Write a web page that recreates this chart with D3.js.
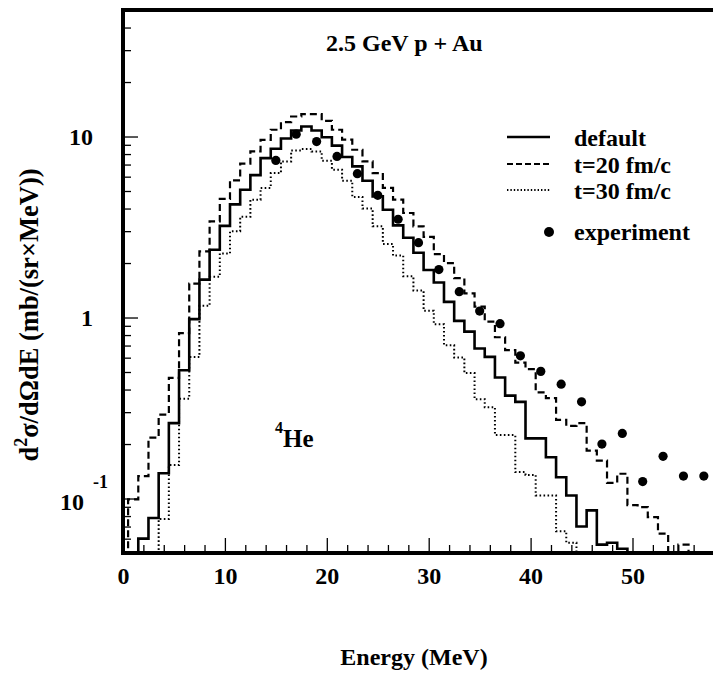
<!DOCTYPE html>
<html><head><meta charset="utf-8">
<script src="https://cdn.jsdelivr.net/npm/d3@7"></script>
<style>
body{margin:0;background:#fff}
svg{display:block;background:#fff}
text{font-family:"Liberation Serif","Times New Roman",serif;font-weight:bold;fill:#000}
</style>
</head><body><svg id="c" width="713" height="674"></svg>
<script>
// ---- data ----
// histogram bin centres (MeV), 1 MeV wide bins
const binCenters = [0,1,2,3,4,5,6,7,8,9,10,11,12,13,14,15,16,17,18,19,20,21,22,23,24,25,26,27,28,29,30,31,32,33,34,35,36,37,38,39,40,41,42,43,44,45,46,47,48,49,50,51,52,53,54,55,56,57];
// values below the frame (0.05) are shown as 0.03 (they fall off the plot)
const defaultVals = [0.03,0.03,0.060,0.078,0.138,0.261,0.511,0.98,1.62,2.37,3.21,4.22,5.08,6.12,7.60,8.56,9.75,10.8,11.35,10.8,9.9,8.9,7.7,6.84,5.70,4.67,3.94,3.23,2.76,2.28,1.83,1.56,1.22,0.958,0.836,0.674,0.606,0.466,0.370,0.342,0.215,0.215,0.169,0.131,0.104,0.070,0.086,0.0556,0.057,0.0528,0.03,0.03,0.03,0.03,0.03,0.03,0.03,0.03];
const t20Vals = [0.03,0.099,0.133,0.217,0.291,0.464,0.82,1.54,2.32,3.40,4.52,5.73,7.08,8.27,9.59,10.9,12.0,12.9,13.3,13.3,12.2,10.9,9.6,8.45,7.28,6.28,5.20,4.48,3.78,3.19,2.79,2.24,2.0,1.65,1.36,1.15,0.95,0.778,0.661,0.563,0.519,0.386,0.359,0.272,0.252,0.261,0.184,0.162,0.122,0.137,0.092,0.0897,0.079,0.064,0.03,0.0556,0.03,0.03];
const t30Vals = [0.03,0.03,0.03,0.03,0.077,0.153,0.356,0.605,1.16,1.68,2.26,3.0,3.6,4.48,5.2,6.28,7.28,8.37,8.52,8.27,7.35,6.56,5.70,4.63,4.0,3.19,2.55,2.2,1.69,1.41,1.09,0.918,0.703,0.601,0.493,0.354,0.319,0.224,0.224,0.140,0.135,0.104,0.104,0.066,0.057,0.03,0.03,0.03,0.03,0.03,0.03,0.03,0.03,0.03,0.03,0.03,0.03,0.03];
const expEnergy = [15,17,19,21,23,25,27,29,31,33,35,37,39,41,43,45,47,49,51,53,55,57];
const expVals = [7.38,10.3,9.38,7.76,6.23,4.73,3.49,2.59,1.84,1.39,1.086,0.925,0.614,0.504,0.428,0.342,0.200,0.229,0.124,0.171,0.133,0.133];
const xMajorTicks = [0,10,20,30,40,50];
const xMinorTicks = [2,4,6,8,12,14,16,18,22,24,26,28,32,34,36,38,42,44,46,48,52,54,56,58];
const yMajorTicks = [0.1,1,10];
const yMinorTicks = [0.06,0.07,0.08,0.09,0.2,0.3,0.4,0.5,0.6,0.7,0.8,0.9,2,3,4,5,6,7,8,9,20,30,40];
const seriesNames = ["default","t=20 fm/c","t=30 fm/c","experiment"];
const titleText = "2.5 GeV p + Au";
const xTitle = "Energy (MeV)";

// ---- layout ----
const W = 713, H = 674;
const L = 123, B = 553, T = 10;
const svg = d3.select("#c");
const x = d3.scaleLinear().domain([0, 60]).range([L, L + 611.4]);
const y = d3.scaleLog().domain([0.05, 50]).range([B, T]);

svg.append("defs").append("clipPath").attr("id", "clip")
  .append("rect").attr("x", L).attr("y", T).attr("width", W - L).attr("height", B - T);

// ---- axes ----
const xAxis = svg.append("g").attr("transform", `translate(0,${B})`)
  .call(d3.axisBottom(x).tickValues(xMajorTicks).tickSize(-15).tickPadding(14).tickFormat(d3.format("d")));
const xAxisMinor = svg.append("g").attr("transform", `translate(0,${B})`)
  .call(d3.axisBottom(x).tickValues(xMinorTicks).tickSize(-8).tickFormat(""));
const yAxis = svg.append("g").attr("transform", `translate(${L},0)`)
  .call(d3.axisLeft(y).tickValues(yMajorTicks).tickSize(-15).tickPadding(30).tickFormat(d => d >= 1 ? d3.format("d")(d) : "10"));
const yAxisMinor = svg.append("g").attr("transform", `translate(${L},0)`)
  .call(d3.axisLeft(y).tickValues(yMinorTicks).tickSize(-8).tickFormat(""));
[xAxis, xAxisMinor, yAxis, yAxisMinor].forEach(g => {
  g.select(".domain").remove();
  g.selectAll(".tick line").attr("stroke", "#000").attr("stroke-width", 1.3);
  g.selectAll("text").attr("font-family", null).attr("font-size", 24).attr("fill", "#000");
});
// 10^-1 label
yAxis.selectAll(".tick").filter(d => d < 1).select("text")
  .attr("text-anchor", "start").attr("x", -63).attr("dy", "0.47em")
  .append("tspan").attr("dx", 9).attr("dy", -22).attr("font-size", 18).text("-1");

// ---- histograms ----
function stepPoints(vals) {
  const pts = binCenters.map((c, i) => [c - 0.5, vals[i]]);
  pts.push([binCenters[binCenters.length - 1] + 0.5, vals[vals.length - 1]]);
  return pts;
}
const line = d3.line().x(d => x(d[0])).y(d => y(d[1])).curve(d3.curveStepAfter);
const plot = svg.append("g").attr("clip-path", "url(#clip)");
plot.append("path").attr("d", line(stepPoints(t30Vals)))
  .attr("fill", "none").attr("stroke", "#000").attr("stroke-width", 2).attr("stroke-dasharray", "1.6,2.4");
plot.append("path").attr("d", line(stepPoints(t20Vals)))
  .attr("fill", "none").attr("stroke", "#000").attr("stroke-width", 2.2).attr("stroke-dasharray", "7,4");
plot.append("path").attr("d", line(stepPoints(defaultVals)))
  .attr("fill", "none").attr("stroke", "#000").attr("stroke-width", 2.6);
plot.selectAll("circle.exp").data(expEnergy).join("circle").attr("class", "exp")
  .attr("cx", d => x(d)).attr("cy", (d, i) => y(expVals[i])).attr("r", 4.6).attr("fill", "#000");

// ---- frame ----
svg.append("line").attr("x1", L - 2).attr("x2", W).attr("y1", T).attr("y2", T).attr("stroke", "#000").attr("stroke-width", 4);
svg.append("line").attr("x1", L).attr("x2", L).attr("y1", T - 2).attr("y2", B + 2).attr("stroke", "#000").attr("stroke-width", 4);
svg.append("line").attr("x1", L - 2).attr("x2", W).attr("y1", B).attr("y2", B).attr("stroke", "#000").attr("stroke-width", 4);

// ---- texts ----
svg.append("text").attr("x", 326).attr("y", 51).attr("font-size", 24).text(titleText);
svg.append("text").attr("x", 414).attr("y", 665).attr("text-anchor", "middle").attr("font-size", 24).text(xTitle);
const yt = svg.append("text").attr("transform", "translate(38,315) rotate(-90)").attr("text-anchor", "middle").attr("font-size", 26.5);
yt.append("tspan").text("d");
yt.append("tspan").attr("dy", -11).attr("font-size", 18).text("2");
yt.append("tspan").attr("dy", 11).text("σ/dΩdE (mb/(sr×MeV))");
const he = svg.append("text").attr("x", 275).attr("y", 447).attr("font-size", 25);
he.append("tspan").attr("dy", -14).attr("font-size", 16).text("4");
he.append("tspan").attr("dy", 14).text("He");

// ---- legend ----
const leg = svg.append("g");
const legY = [137, 164, 190];
const legStyles = [{w:2.6, d:null},{w:2.2, d:"6,3"},{w:2, d:"1.4,2"}];
legY.forEach((ly, i) => {
  leg.append("line").attr("x1", 507).attr("x2", 550).attr("y1", ly).attr("y2", ly)
    .attr("stroke", "#000").attr("stroke-width", legStyles[i].w).attr("stroke-dasharray", legStyles[i].d);
  leg.append("text").attr("x", 574).attr("y", ly + 8.5).attr("font-size", 24).text(seriesNames[i]);
});
leg.append("circle").attr("cx", 549).attr("cy", 232).attr("r", 5).attr("fill", "#000");
leg.append("text").attr("x", 574).attr("y", 240).attr("font-size", 24).text(seriesNames[3]);
</script>
</body></html>
